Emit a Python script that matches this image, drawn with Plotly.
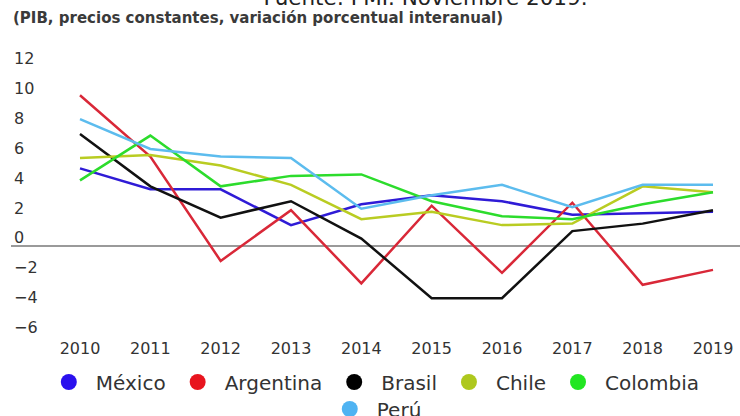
import plotly.graph_objects as go

years = [2010, 2011, 2012, 2013, 2014, 2015, 2016, 2017, 2018, 2019]
year_labels = [str(y) for y in years]
y_ticks = [-6, -4, -2, 0, 2, 4, 6, 8, 10, 12]

mexico = [5.2, 3.8, 3.8, 1.4, 2.8, 3.4, 3.0, 2.1, 2.2, 2.3]
argentina = [10.1, 6.0, -1.0, 2.4, -2.5, 2.7, -1.8, 2.9, -2.6, -1.6]
brasil = [7.5, 4.0, 1.9, 3.0, 0.5, -3.5, -3.5, 1.0, 1.5, 2.4]
chile = [5.9, 6.1, 5.4, 4.1, 1.8, 2.3, 1.4, 1.5, 4.0, 3.6]
colombia = [4.4, 7.4, 4.0, 4.7, 4.8, 3.0, 2.0, 1.8, 2.8, 3.6]
peru = [8.5, 6.5, 6.0, 5.9, 2.5, 3.4, 4.1, 2.6, 4.1, 4.1]

series = [
    ("México", mexico, "#2f1bd6", "#2a10ee", "legend"),
    ("Argentina", argentina, "#d92838", "#e8141e", "legend"),
    ("Brasil", brasil, "#111111", "#000000", "legend"),
    ("Chile", chile, "#b9cc22", "#aec81e", "legend"),
    ("Colombia", colombia, "#2cdc2c", "#22e622", "legend"),
    ("Perú", peru, "#5cbcee", "#4fb3f2", "legend2"),
]

font_family = "DejaVu Sans"
fig = go.Figure()
for name, vals, lc, mc, lg in series:
    fig.add_trace(go.Scatter(x=years, y=vals, mode="lines", name=name,
                             line=dict(color=lc, width=2.5), showlegend=False,
                             legendgroup=name))
for name, vals, lc, mc, lg in series:
    fig.add_trace(go.Scatter(x=[None], y=[None], mode="markers", name=name,
                             marker=dict(color=mc, size=16, symbol="circle"),
                             showlegend=True, legendgroup=name, legend=lg))

legend_common = dict(orientation="h", xref="paper", yref="container",
                     xanchor="center", yanchor="middle",
                     font=dict(family=font_family, size=20, color="#333333"),
                     itemwidth=44, bgcolor="rgba(0,0,0,0)", tracegroupgap=0)

T, B = 44, 77
PH = 416 - T - B
ZERO = 246
PXU = 14.92


def py(p):
    return (416 - B - p) / PH


fig.update_layout(
    width=740, height=416,
    margin=dict(l=11, r=0, t=T, b=B, autoexpand=False),
    paper_bgcolor="white", plot_bgcolor="white",
    font=dict(family=font_family, color="#333333"),
    title=dict(text="Fuente: FMI. Noviembre 2019.", xref="container", yref="container",
               x=425.5 / 740, y=(416 - 5) / 416, xanchor="center", yanchor="bottom",
               font=dict(family=font_family, size=21.5, color="#222222")),
    xaxis=dict(range=[2009.019, 2019.384], tickvals=years, ticktext=year_labels,
               showgrid=False, zeroline=False, showline=False, ticks="",
               ticklabelstandoff=-2,
               tickfont=dict(family=font_family, size=16, color="#333333")),
    yaxis=dict(range=[-(416 - B - ZERO) / PXU, (ZERO - T) / PXU], tickvals=y_ticks,
               ticklabelposition="inside top", ticklabelshift=3,
               showgrid=False, zeroline=True, zerolinecolor="#9a9a9a",
               zerolinewidth=2, showline=False, ticks="",
               tickfont=dict(family=font_family, size=16, color="#333333")),
    legend=dict(x=0.497, y=(416 - 382) / 416, **legend_common),
    legend2=dict(x=0.499, y=(416 - 409) / 416, **legend_common),
    annotations=[
        dict(text="(PIB, precios constantes, variación porcentual interanual)",
             xref="paper", yref="paper", x=0.0, y=py(18.5),
             xanchor="left", yanchor="middle", showarrow=False,
             font=dict(family=font_family, size=15, color="#3a3a3a", weight="bold")),
    ],
)

fig.write_html("out.html", config={"displayModeBar": False},
               post_script="document.body.style.margin='0';")
